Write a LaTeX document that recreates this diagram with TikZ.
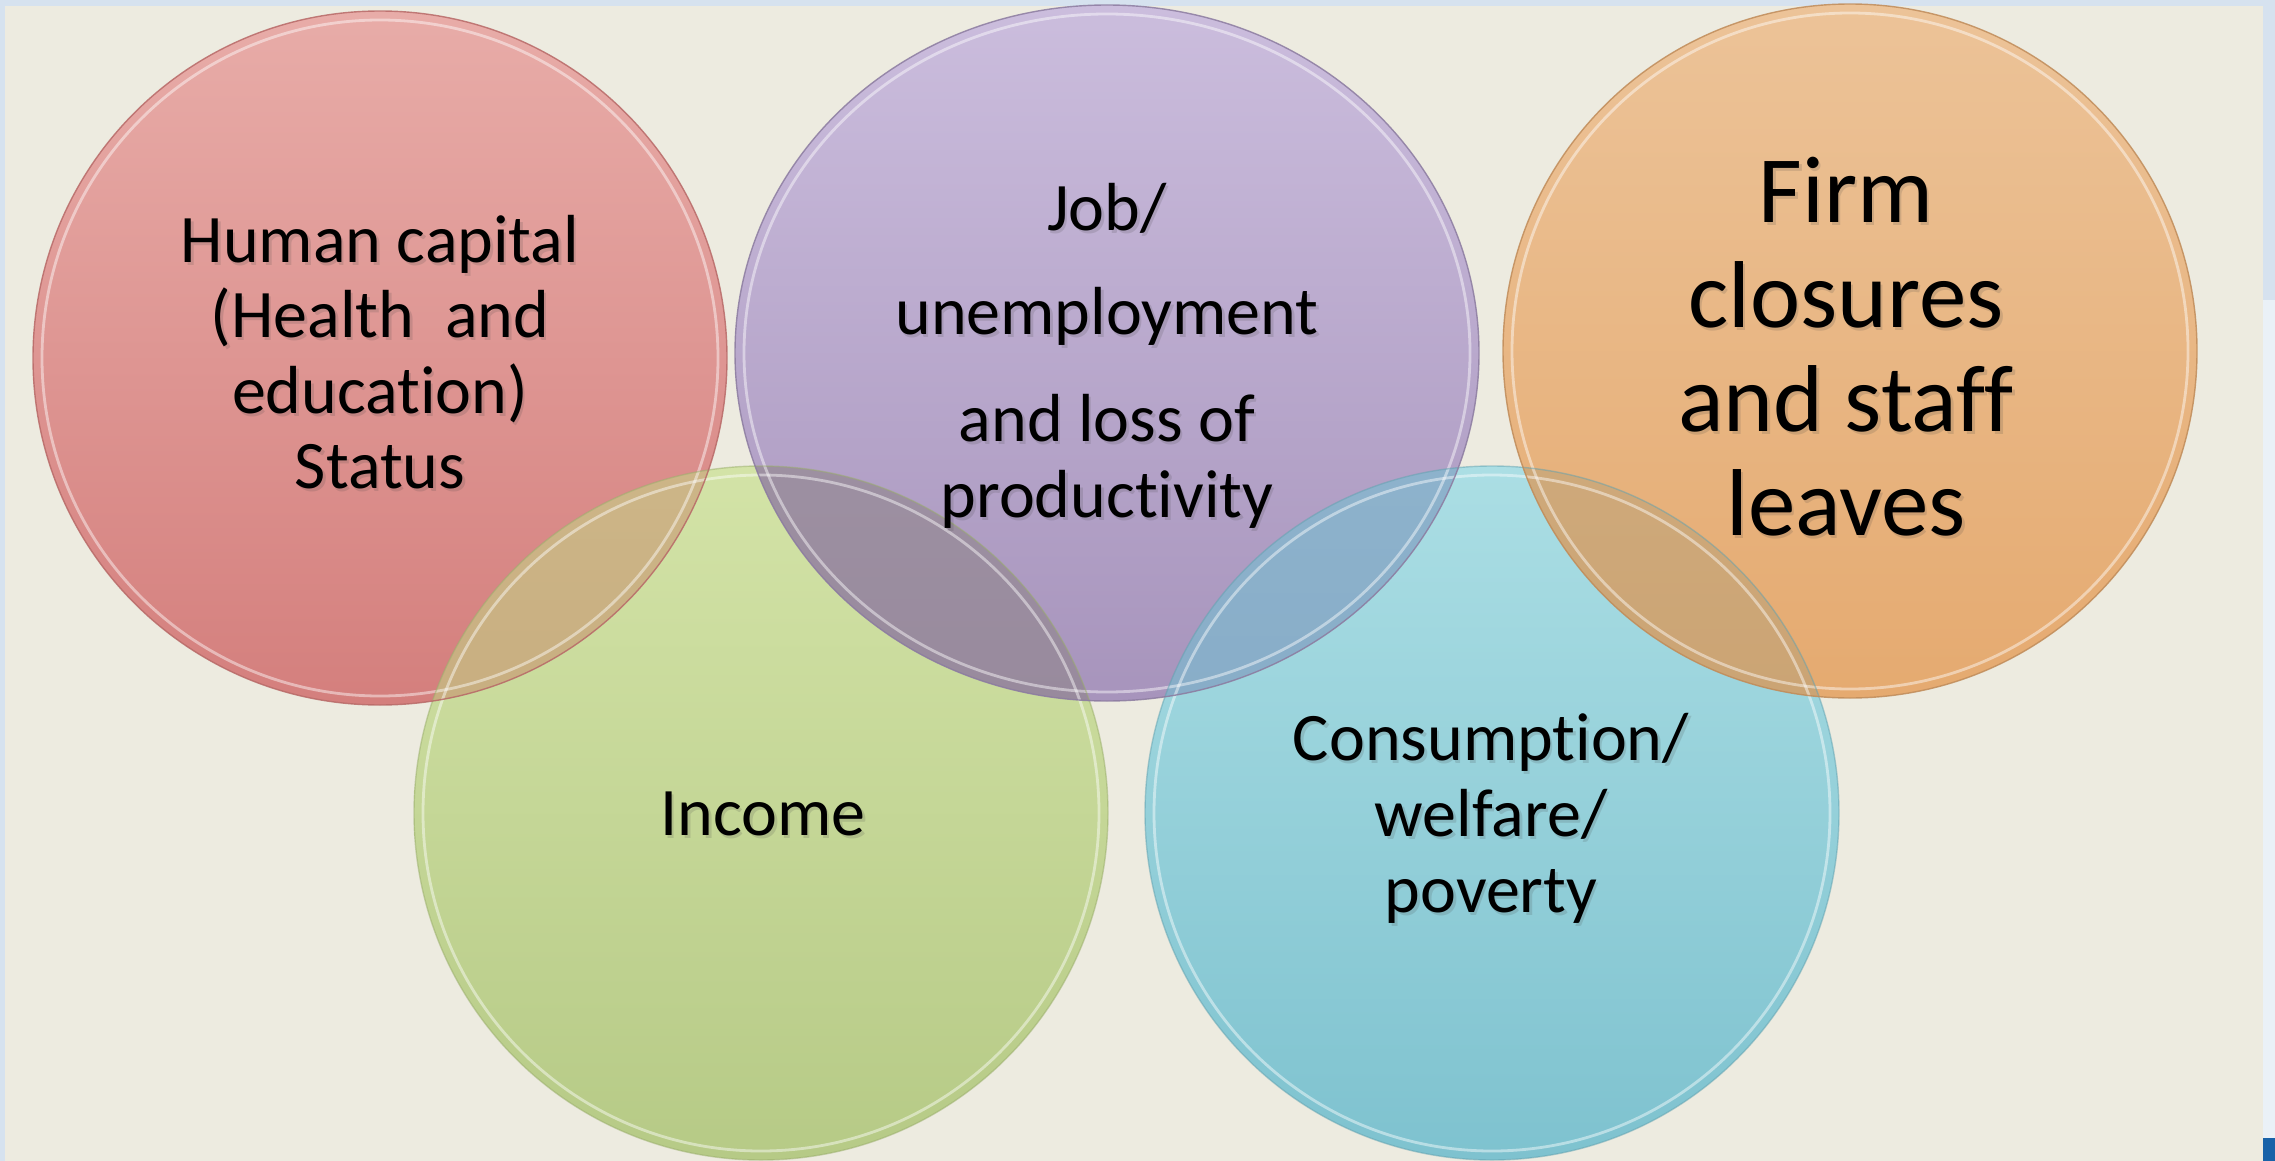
\documentclass[tikz,border=0pt]{standalone}
\usepackage{fontspec}
\setmainfont[Ligatures={NoCommon,NoContextual}]{Carlito}
\usetikzlibrary{calc}
\definecolor{slideblue}{HTML}{D6E2EF}
\definecolor{sideblue}{HTML}{EAF1F7}
\definecolor{beige}{HTML}{EDEBE0}
\definecolor{logoblue}{HTML}{1862A8}
\definecolor{redT}{HTML}{E8ACA8}
\definecolor{redB}{HTML}{D47F7D}
\definecolor{redD}{HTML}{B86A68}
\definecolor{purT}{HTML}{CBBDDD}
\definecolor{purB}{HTML}{A794BC}
\definecolor{purD}{HTML}{8C7CA0}
\definecolor{ornT}{HTML}{ECC398}
\definecolor{ornB}{HTML}{E5AA70}
\definecolor{ornD}{HTML}{C08C5A}
\definecolor{grnT}{HTML}{D3E3A7}
\definecolor{grnB}{HTML}{B6CA86}
\definecolor{grnD}{HTML}{9AAE6C}
\definecolor{bluT}{HTML}{ABDEE4}
\definecolor{bluB}{HTML}{7EC2CF}
\definecolor{bluD}{HTML}{62A2B0}
\definecolor{rgT}{HTML}{D6C597}
\definecolor{rgB}{HTML}{C8AE80}
\definecolor{pgT}{HTML}{A69BAA}
\definecolor{pgB}{HTML}{988A9D}
\definecolor{pbT}{HTML}{98BDD4}
\definecolor{pbB}{HTML}{88ADC8}
\definecolor{obT}{HTML}{D5B387}
\definecolor{obB}{HTML}{CBA474}
\newcommand\vennlabel[4]{%
  \node[#1, text=black!75, opacity=0.16] (#2s) at ($(#3)+(2.5,3)$) {#4};
  \node[#1] (#2) at (#3) {#4};}
\begin{document}
\begin{tikzpicture}[x=0.5pt,y=-0.5pt]
\tikzset{
  lbl/.style={anchor=base, inner sep=0pt, font=\fontsize{34}{37.5}\selectfont},
  biglbl/.style={anchor=base, inner sep=0pt, font=\fontsize{47.5}{52}\selectfont},
  rimline/.style={draw=white, draw opacity=0.45, line width=1.4pt},
  edge/.style={line width=0.7pt, draw opacity=0.85}
}
\useasboundingbox (0,0) rectangle (2275,1161);
% slide background
\fill[slideblue] (0,0) rectangle (2275,1161);
\fill[sideblue] (2263,300) rectangle (2275,1161);
\fill[beige] (5,6) rectangle (2263,1161);
\fill[logoblue] (2263,1138) rectangle (2275,1161);
% centres
\coordinate (cR) at (380,358);
\coordinate (cP) at (1107,353);
\coordinate (cO) at (1850,351);
\coordinate (cG) at (761,813);
\coordinate (cB) at (1492,813);
% circles
\shade[top color=grnT, bottom color=grnB] (cG) circle [radius=347];
\shade[top color=bluT, bottom color=bluB] (cB) circle [radius=347];
\shade[top color=redT, bottom color=redB] (cR) circle [radius=347];
\shade[top color=purT, bottom color=purB] (cP) ellipse [x radius=372, y radius=348];
\shade[top color=ornT, bottom color=ornB] (cO) circle [radius=347];
% overlaps
\begin{scope}
  \clip (cG) circle [radius=347];
  \shade[top color=rgT, bottom color=rgB] (cR) circle [radius=347];
  \shade[top color=pgT, bottom color=pgB] (cP) ellipse [x radius=372, y radius=348];
\end{scope}
\begin{scope}
  \clip (cB) circle [radius=347];
  \shade[top color=pbT, bottom color=pbB] (cP) ellipse [x radius=372, y radius=348];
  \shade[top color=obT, bottom color=obB] (cO) circle [radius=347];
\end{scope}
% rims (inner highlight)
\draw[rimline] (cG) circle [radius=338];
\draw[rimline] (cB) circle [radius=338];
\draw[rimline] (cR) circle [radius=338];
\draw[rimline] (cP) ellipse [x radius=363, y radius=339];
\draw[rimline] (cO) circle [radius=338];
% outlines
\draw[edge, draw=grnD, draw opacity=0.5] (cG) circle [radius=347];
\draw[edge, draw=bluD, draw opacity=0.5] (cB) circle [radius=347];
\draw[edge, draw=redD] (cR) circle [radius=347];
\draw[edge, draw=purD] (cP) ellipse [x radius=372, y radius=348];
\draw[edge, draw=ornD] (cO) circle [radius=347];
% labels
\vennlabel{lbl}{h1}{380,262}{Human capital}
\vennlabel{lbl}{h2}{380,337.5}{(Health\ \ and}
\vennlabel{lbl}{h3}{380,413}{education)}
\vennlabel{lbl}{h4}{380,488.5}{Status}
\vennlabel{lbl}{j1}{1107,230}{Job/}
\vennlabel{lbl}{j2}{1107,334}{unemployment}
\vennlabel{lbl}{j3}{1107,441}{and loss of}
\vennlabel{lbl}{j4}{1107,517}{productivity}
\vennlabel{biglbl}{f1}{1846,222}{Firm}
\vennlabel{biglbl}{f2}{1846,327}{closures}
\vennlabel{biglbl}{f3}{1846,431}{and staff}
\vennlabel{biglbl}{f4}{1846,535}{leaves}
\vennlabel{lbl}{i1}{763,835}{Income}
\vennlabel{lbl}{c1}{1491,760}{Consumption/}
\vennlabel{lbl}{c2}{1491,836}{welfare/}
\vennlabel{lbl}{c3}{1491,912}{poverty}
\end{tikzpicture}
\end{document}
